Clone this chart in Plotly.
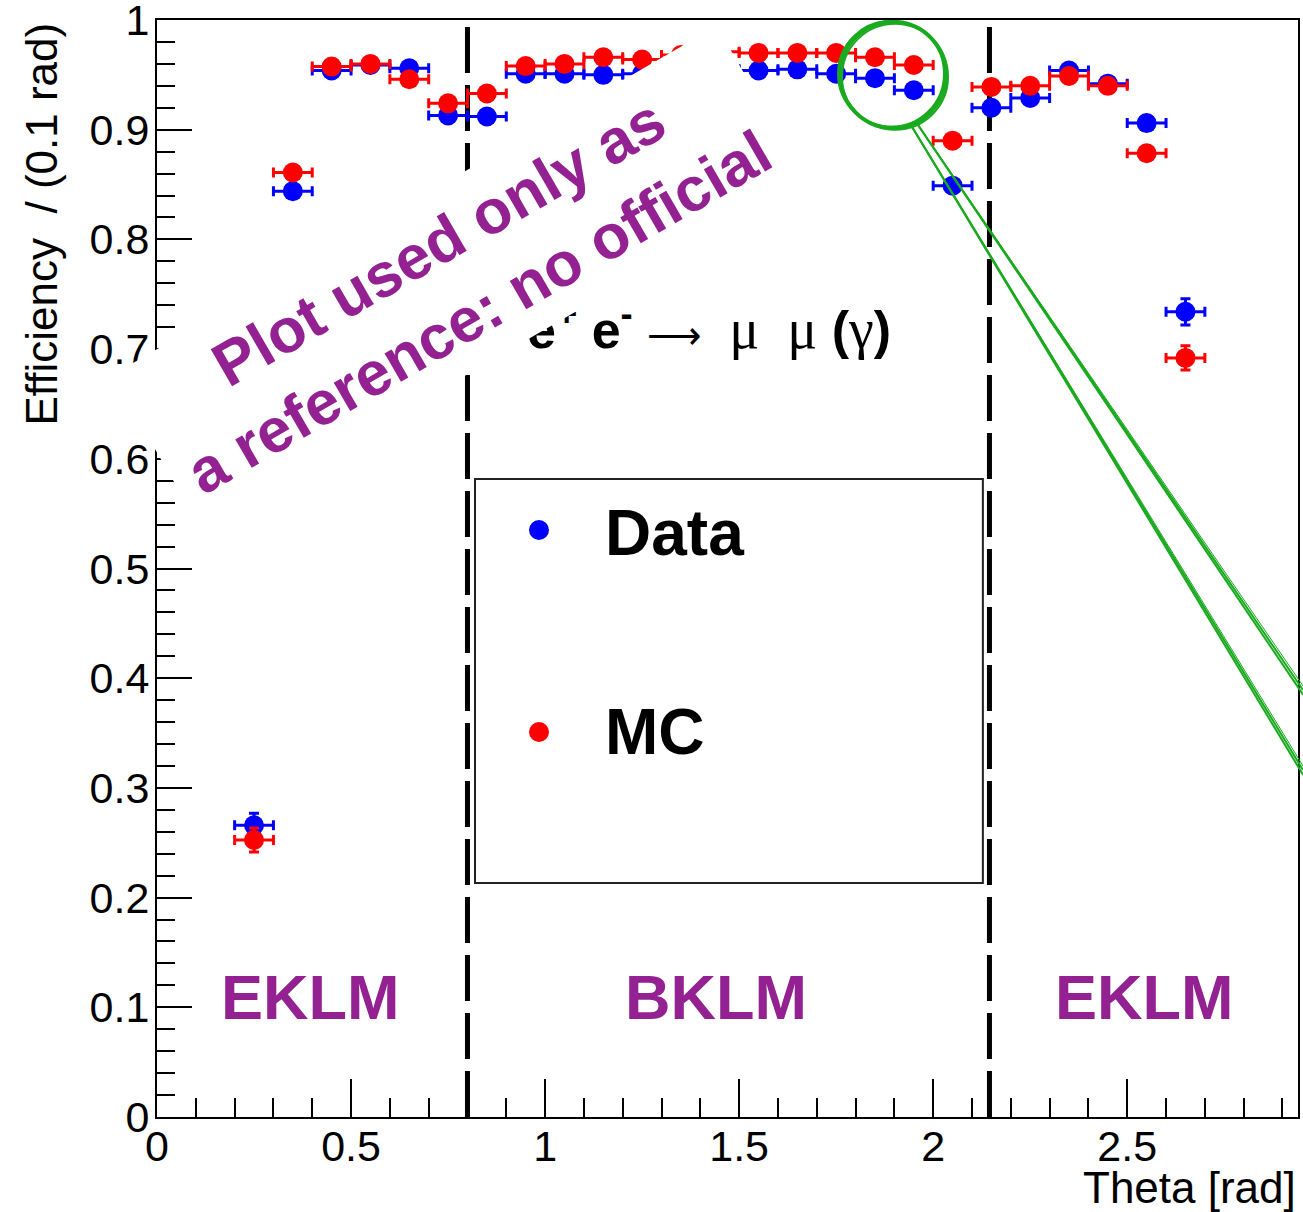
import plotly.graph_objects as go

# ---------------- data ----------------
theta = [0.25, 0.35, 0.45, 0.55, 0.65, 0.75, 0.85, 0.95, 1.05, 1.15, 1.25, 1.35, 1.45,
         1.55, 1.65, 1.75, 1.85, 1.95, 2.05, 2.15, 2.25, 2.35, 2.45, 2.55, 2.65]
bin_half_width = [0.05] * len(theta)

eff_data = [0.266, 0.844, 0.954, 0.959, 0.956, 0.913, 0.912, 0.951, 0.951, 0.950, 0.951, 0.953, 0.955,
            0.954, 0.955, 0.951, 0.947, 0.936, 0.849, 0.920, 0.929, 0.954, 0.942, 0.906, 0.734]
err_data = [0.011, 0.003, 0.002, 0.002, 0.002, 0.003, 0.003, 0.002, 0.002, 0.002, 0.002, 0.002, 0.002,
            0.002, 0.002, 0.002, 0.002, 0.002, 0.003, 0.003, 0.003, 0.002, 0.002, 0.004, 0.012]

eff_mc = [0.2525, 0.861, 0.9575, 0.960, 0.946, 0.924, 0.933, 0.958, 0.960, 0.966, 0.964, 0.968, 0.971,
          0.970, 0.970, 0.970, 0.966, 0.959, 0.890, 0.939, 0.940, 0.949, 0.940, 0.8785, 0.692]
err_mc = [0.011, 0.003, 0.002, 0.002, 0.002, 0.003, 0.003, 0.002, 0.002, 0.002, 0.002, 0.002, 0.002,
          0.002, 0.002, 0.002, 0.002, 0.002, 0.003, 0.003, 0.003, 0.002, 0.002, 0.004, 0.011]

x_tick_vals = [0, 0.5, 1, 1.5, 2, 2.5]
x_tick_text = ["0", "0.5", "1", "1.5", "2", "2.5"]
y_tick_vals = [0, 0.1, 0.2, 0.3, 0.4, 0.5, 0.6, 0.7, 0.8, 0.9, 1.0]
y_tick_text = ["0", "0.1", "0.2", "0.3", "0.4", "0.5", "0.6", "0.7", "0.8", "0.9", "1"]

boundaries = [0.8, 2.145]
region_labels = ["EKLM", "BKLM", "EKLM"]
region_label_x = [0.394, 1.440, 2.543]

FONT = "Liberation Sans, Arial, Helvetica, sans-serif"
PURPLE = "rgb(148,33,145)"
GREEN = "rgb(25,170,30)"

fig = go.Figure()


def add_series(y, err, color, name):
    fig.add_trace(go.Scatter(
        x=theta, y=y, mode="markers", name=name,
        marker=dict(symbol="circle", size=20, color=color),
        error_x=dict(type="data", array=bin_half_width, color=color, thickness=3, width=5),
        error_y=dict(type="data", array=err, color=color, thickness=3, width=5),
        showlegend=False,
    ))


add_series(eff_data, err_data, "rgb(0,0,255)", "Data")
add_series(eff_mc, err_mc, "rgb(255,0,0)", "MC")

shapes = []
# detector boundaries (dashed)
for b in boundaries:
    shapes.append(dict(type="line", xref="x", yref="paper", x0=b, x1=b, y0=0, y1=1,
                       line=dict(color="black", width=5, dash="46px,12px"), layer="below"))

# legend box and markers
shapes.append(dict(type="rect", xref="x", yref="y", x0=0.8194, x1=2.128, y0=0.2133, y1=0.5816,
                   line=dict(color="#222", width=2), fillcolor="rgba(0,0,0,0)", layer="above"))
for yc, col in [(0.5351, "rgb(0,0,255)"), (0.351, "rgb(255,0,0)")]:
    shapes.append(dict(type="circle", xref="x", yref="y", xsizemode="pixel", ysizemode="pixel",
                       xanchor=0.9843, yanchor=yc, x0=-10, x1=10, y0=-10, y1=10,
                       line=dict(width=0), fillcolor=col, layer="above"))

# green hand-drawn circle and lines
for dx, dy, w in [(0, 0, 4), (2, -2, 2), (-2, 1, 2)]:
    shapes.append(dict(type="circle", xref="x", yref="y", xsizemode="pixel", ysizemode="pixel",
                       xanchor=1.8965, yanchor=0.950, x0=-53 + dx, x1=53 + dx, y0=-53 + dy, y1=53 + dy,
                       line=dict(color=GREEN, width=w), layer="above"))
for x0, y0, x1, y1, w in [(0.6652, 0.9070, 1.0044, 0.3892, 2), (0.6665, 0.9050, 1.0044, 0.3850, 2),
                          (0.6660, 0.9060, 1.0044, 0.3930, 1),
                          (0.6608, 0.9043, 1.0044, 0.3163, 2), (0.6620, 0.9020, 1.0044, 0.3120, 2),
                          (0.6615, 0.9030, 1.0044, 0.3200, 1)]:
    shapes.append(dict(type="line", xref="paper", yref="paper", x0=x0, y0=y0, x1=x1, y1=y1,
                       line=dict(color=GREEN, width=w), layer="above"))

annotations = []
SERIF = "font-family:Liberation Serif,Times New Roman,serif;font-size:56px"
ARROW = "font-family:Liberation Serif,Times New Roman,serif;font-size:38px"
# process label
annotations.append(dict(
    xref="x", yref="y", x=0.948, y=0.721, xanchor="left", yanchor="middle", showarrow=False,
    text=("<b>e<sup>+</sup> e<sup>-</sup></b>\u00a0<span style='%s'>\u27f6</span>"
          "<span style='%s'>\u00a0\u00a0μ\u00a0\u00a0μ</span>"
          " <b>(</b><span style='%s'>γ</span><b>)</b>") % (ARROW, SERIF, SERIF),
    font=dict(family=FONT, size=52, color="black"),
))
# watermark with white rotated box
annotations.append(dict(
    xref="x", yref="y", x=0.7774, y=0.7661, xanchor="center", yanchor="middle", showarrow=False,
    text="<b>Plot used only as<br>a reference: no official</b>", textangle=-30,
    width=697, height=176, bgcolor="white", borderpad=0,
    font=dict(family=FONT, size=62, color=PURPLE),
))
# region labels
for lab, xl in zip(region_labels, region_label_x):
    annotations.append(dict(xref="x", yref="y", x=xl, y=0.1094, xanchor="center", yanchor="middle",
                            showarrow=False, text="<b>%s</b>" % lab,
                            font=dict(family=FONT, size=63, color=PURPLE)))
# legend texts
annotations.append(dict(xref="x", yref="y", x=1.149, y=0.5328, xanchor="left", yanchor="middle",
                        showarrow=False, text="<b>Data</b>", font=dict(family=FONT, size=64, color="black")))
annotations.append(dict(xref="x", yref="y", x=1.149, y=0.351, xanchor="left", yanchor="middle",
                        showarrow=False, text="<b>MC</b>", font=dict(family=FONT, size=64, color="black")))
# axis titles
annotations.append(dict(xref="paper", yref="paper", x=1.0, y=-0.0647, xanchor="right", yanchor="middle",
                        showarrow=False, text="Theta [rad]", font=dict(family=FONT, size=44, color="black")))
annotations.append(dict(xref="paper", yref="paper", x=-0.1008, y=1.0, xanchor="center", yanchor="top",
                        showarrow=False, text="Efficiency\u00a0\u00a0/ (0.1 rad)", textangle=-90,
                        font=dict(family=FONT, size=44, color="black")))

fig.update_layout(
    width=1303, height=1212,
    margin=dict(l=157, r=5, t=20, b=95),
    paper_bgcolor="white", plot_bgcolor="white",
    font=dict(family=FONT, size=43, color="black"),
    shapes=shapes, annotations=annotations,
    showlegend=False,
)
fig.update_xaxes(
    range=[0, 2.94], showgrid=False, zeroline=False, automargin=False,
    showline=True, linecolor="black", linewidth=2, mirror=True,
    tickmode="array", tickvals=x_tick_vals, ticktext=x_tick_text, ticklabeloverflow="allow",
    ticks="inside", ticklen=38, tickwidth=2, tickcolor="black", ticklabelstandoff=-10,
    minor=dict(tickmode="linear", tick0=0, dtick=0.1, ticks="inside", ticklen=19, tickwidth=2,
               tickcolor="black"),
    tickfont=dict(family=FONT, size=43, color="black"),
)
fig.update_yaxes(
    range=[0, 1], showgrid=False, zeroline=False, automargin=False,
    showline=True, linecolor="black", linewidth=2, mirror=True,
    tickmode="array", tickvals=y_tick_vals, ticktext=y_tick_text, ticklabeloverflow="allow",
    ticks="inside", ticklen=35, tickwidth=2, tickcolor="black", ticklabelstandoff=-3,
    minor=dict(tickmode="linear", tick0=0, dtick=0.02, ticks="inside", ticklen=18, tickwidth=2,
               tickcolor="black"),
    tickfont=dict(family=FONT, size=43, color="black"),
)

fig.write_html("out.html", config={"displayModeBar": False},
               post_script="document.body.style.margin='0px';")
